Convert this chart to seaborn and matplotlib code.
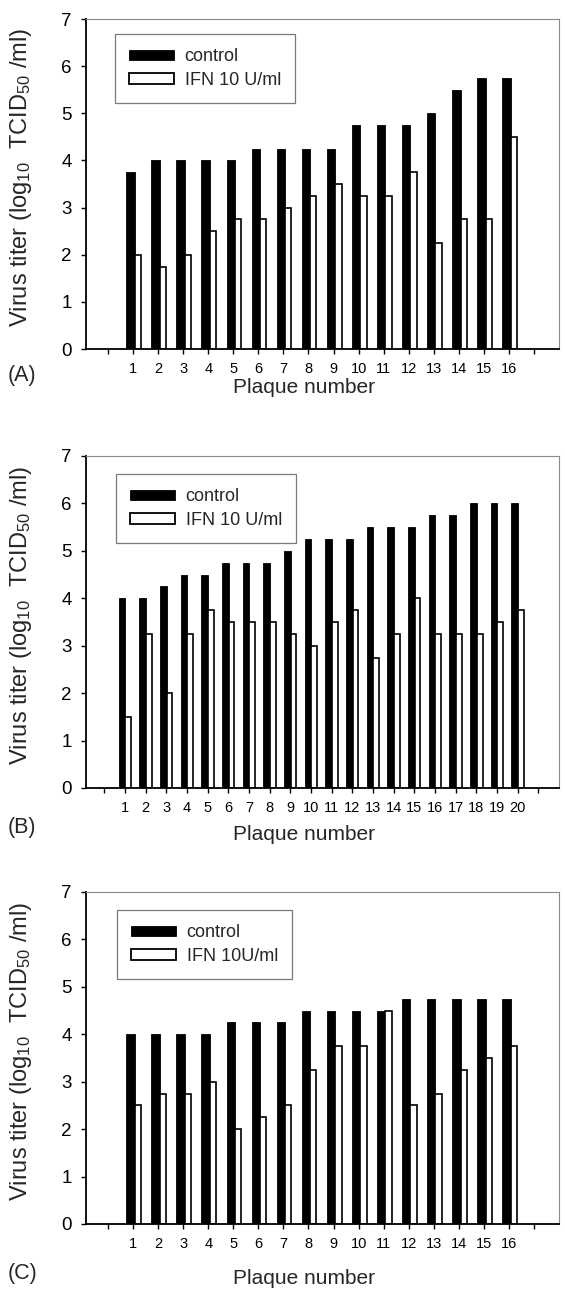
import matplotlib
matplotlib.use("Agg")
import numpy as np
import pandas as pd
import matplotlib.pyplot as plt
from matplotlib.patches import Patch
import seaborn as sns

###############################################################################
# Data
###############################################################################

plaques_a = list(range(1, 17))
control_a = [3.75, 4, 4, 4, 4, 4.25, 4.25, 4.25, 4.25, 4.75, 4.75, 4.75, 5, 5.5, 5.75, 5.75]
ifn_a = [2, 1.75, 2, 2.5, 2.75, 2.75, 3, 3.25, 3.5, 3.25, 3.25, 3.75, 2.25, 2.75, 2.75, 4.5]

plaques_b = list(range(1, 21))
control_b = [4, 4, 4.25, 4.5, 4.5, 4.75, 4.75, 4.75, 5, 5.25,
             5.25, 5.25, 5.5, 5.5, 5.5, 5.75, 5.75, 6, 6, 6]
ifn_b = [1.5, 3.25, 2, 3.25, 3.75, 3.5, 3.5, 3.5, 3.25, 3,
         3.5, 3.75, 2.75, 3.25, 4, 3.25, 3.25, 3.25, 3.5, 3.75]

plaques_c = list(range(1, 17))
control_c = [4, 4, 4, 4, 4.25, 4.25, 4.25, 4.5, 4.5, 4.5, 4.5, 4.75, 4.75, 4.75, 4.75, 4.75]
ifn_c = [2.5, 2.75, 2.75, 3, 2, 2.25, 2.5, 3.25, 3.75, 3.75, 4.5, 2.5, 2.75, 3.25, 3.5, 3.75]

ifn_labels = ["IFN 10 U/ml", "IFN 10 U/ml", "IFN 10U/ml"]
panel_letters = ["(A)", "(B)", "(C)"]
y_ticks = list(range(0, 8))

###############################################################################
# Layout helpers (figure pixels)
###############################################################################

W, H = 565, 1289


def fx(px):
    return px / W


def fy(py):
    return 1 - py / H


def add_axes_px(fig, top, bottom, left=86, right=559):
    return fig.add_axes([fx(left), fy(bottom), fx(right - left), (bottom - top) / H])


def draw_panel(fig, ax, plaques, control, ifn, ifn_label, letter,
               legend_xy, letter_y, xlabel_y, bar_geom):
    df = pd.DataFrame({"plaque": plaques, "control": control, "ifn": ifn})
    ctrl_shift, ctrl_w, ifn_shift, ifn_w = bar_geom

    sns.barplot(x=df["plaque"] + ctrl_shift, y=df["control"], native_scale=True,
                width=ctrl_w, color="black", edgecolor="black", linewidth=0.6,
                saturation=1, errorbar=None, ax=ax)
    sns.barplot(x=df["plaque"] + ifn_shift, y=df["ifn"], native_scale=True,
                width=ifn_w, color="white", edgecolor="black", linewidth=1.2,
                saturation=1, errorbar=None, ax=ax)

    n = len(plaques)
    ticks = list(range(0, n + 2))
    ax.set_xticks(ticks)
    ax.set_xticklabels([""] + [str(p) for p in plaques] + [""], fontsize=10.5)
    ax.set_xlim(-0.88, n + 2)
    ax.set_ylim(0, 7)
    ax.set_yticks(y_ticks)
    ax.set_yticklabels([str(t) for t in y_ticks], fontsize=13.5)
    ax.tick_params(axis="x", direction="out", length=3.6, width=1, pad=5.5, colors="black")
    ax.tick_params(axis="y", direction="out", length=3.6, width=1, pad=6.5, colors="black")

    for side in ["left", "bottom"]:
        ax.spines[side].set_color("black")
        ax.spines[side].set_linewidth(1.3)
    for side in ["top", "right"]:
        ax.spines[side].set_color("#8a8a8a")
        ax.spines[side].set_linewidth(0.8)
    ax.grid(False)

    ax.set_ylabel(r"Virus titer (log$_{\mathregular{10}}$  TCID$_{\mathregular{50}}$ /ml)",
                  fontsize=17)
    ax.set_xlabel("")
    bb = ax.get_position()
    ax.yaxis.set_label_coords((fx(34) - bb.x0) / bb.width, 0.52)

    fig.text(fx(304), fy(xlabel_y), "Plaque number", fontsize=15,
             ha="center", va="center")
    fig.text(fx(8), fy(letter_y), letter, fontsize=15.5, ha="left", va="center")

    handles = [Patch(facecolor="black", edgecolor="black", linewidth=0.6),
               Patch(facecolor="white", edgecolor="black", linewidth=1.3)]
    leg = ax.legend(handles, ["control", ifn_label], loc="upper left",
                    bbox_to_anchor=(fx(legend_xy[0]), fy(legend_xy[1])),
                    bbox_transform=fig.transFigure, fontsize=13,
                    frameon=True, fancybox=False, framealpha=1,
                    edgecolor="#7a7a7a", borderpad=0.8, labelspacing=0.35,
                    handlelength=2.45, handleheight=0.55, handletextpad=0.6,
                    borderaxespad=0)
    leg.get_frame().set_linewidth(0.9)


def main():
    sns.set_theme(style="ticks")
    plt.rcParams["font.family"] = ["Liberation Sans", "DejaVu Sans"]
    plt.rcParams["mathtext.fontset"] = "custom"
    plt.rcParams["mathtext.rm"] = "Liberation Sans"
    plt.rcParams["mathtext.it"] = "Liberation Sans:italic"

    fig = plt.figure(figsize=(W / 100, H / 100), dpi=100)
    fig.patch.set_facecolor("white")

    ax_a = add_axes_px(fig, 19, 349)
    ax_b = add_axes_px(fig, 456, 788)
    ax_c = add_axes_px(fig, 892, 1224)

    geom_ac = (-0.1, 0.34, 0.195, 0.25)
    geom_b = (-0.14, 0.32, 0.16, 0.28)

    draw_panel(fig, ax_a, plaques_a, control_a, ifn_a, ifn_labels[0], panel_letters[0],
               (115, 34), 376, 388, geom_ac)
    draw_panel(fig, ax_b, plaques_b, control_b, ifn_b, ifn_labels[1], panel_letters[1],
               (116, 474), 827, 834, geom_b)
    draw_panel(fig, ax_c, plaques_c, control_c, ifn_c, ifn_labels[2], panel_letters[2],
               (117, 910), 1273, 1278, geom_ac)

    fig.savefig("out.png", dpi=100)


if __name__ == "__main__":
    main()
